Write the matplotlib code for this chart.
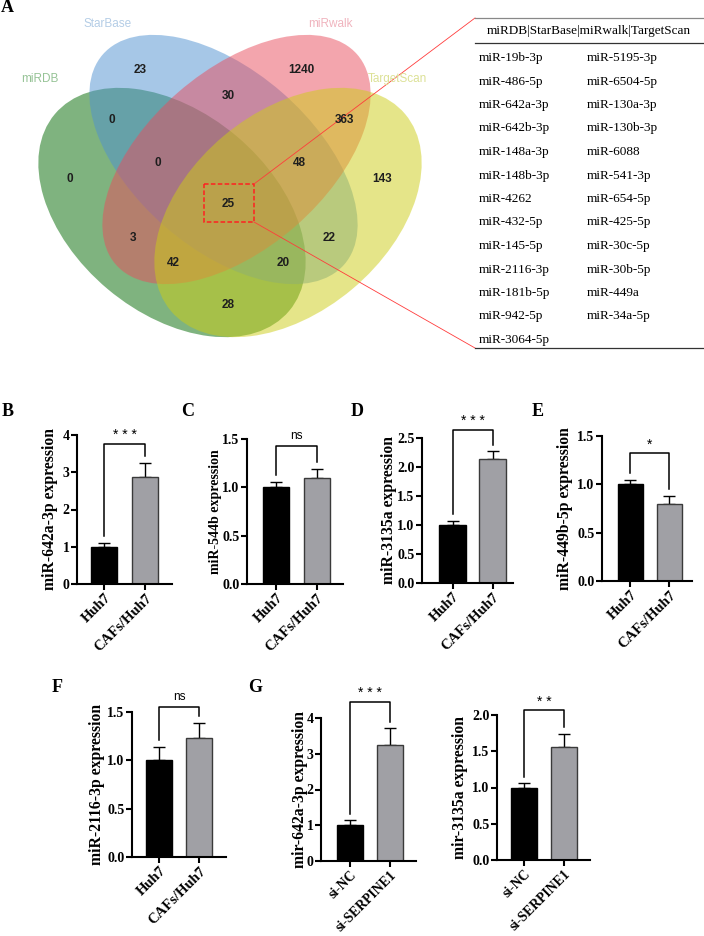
import numpy as np
import matplotlib
matplotlib.use("Agg")
import matplotlib.pyplot as plt
from matplotlib.patches import Ellipse, Rectangle

W, H = 704, 936

# ---- panel A: venn counts
venn_sets = ["miRDB", "StarBase", "miRwalk", "TargetScan"]
venn_regions = ["A", "B", "C", "D", "AB", "CD", "BC", "ABC", "BCD",
                "ABCD", "AC", "BD", "ACD", "ABD", "AD"]
venn_counts = [0, 23, 1240, 143, 0, 363, 30, 0, 48, 25, 3, 22, 42, 20, 28]

# the 25 miRNAs shared by all four databases
shared_col1 = ["miR-19b-3p", "miR-486-5p", "miR-642a-3p", "miR-642b-3p",
               "miR-148a-3p", "miR-148b-3p", "miR-4262", "miR-432-5p",
               "miR-145-5p", "miR-2116-3p", "miR-181b-5p", "miR-942-5p",
               "miR-3064-5p"]
shared_col2 = ["miR-5195-3p", "miR-6504-5p", "miR-130a-3p", "miR-130b-3p",
               "miR-6088", "miR-541-3p", "miR-654-5p", "miR-425-5p",
               "miR-30c-5p", "miR-30b-5p", "miR-449a", "miR-34a-5p"]

# ---- panels B-G: relative expression (mean, upper error)
groups_caf = ["Huh7", "CAFs/Huh7"]
groups_si = ["si-NC", "si-SERPINE1"]
B_mean, B_err = [1.00, 2.87], [0.10, 0.38]
C_mean, C_err = [1.00, 1.10], [0.055, 0.09]
D_mean, D_err = [1.00, 2.14], [0.07, 0.13]
E_mean, E_err = [1.00, 0.80], [0.05, 0.08]
F_mean, F_err = [1.00, 1.23], [0.14, 0.16]
G1_mean, G1_err = [1.00, 3.24], [0.14, 0.48]
G2_mean, G2_err = [1.00, 1.56], [0.06, 0.18]

plt.rcParams["font.family"] = ["Liberation Serif", "DejaVu Serif"]

fig = plt.figure(figsize=(W / 100, H / 100), dpi=100)


def px_ax(x0, x1, ybot, ytop):
    return fig.add_axes([x0 / W, 1 - ybot / H, (x1 - x0) / W, (ybot - ytop) / H])


# overlay in pixel coordinates (venn + table + letters)
ov = fig.add_axes([0, 0, 1, 1])
ov.set_xlim(0, W)
ov.set_ylim(H, 0)
ov.axis("off")

# ellipses: centre, width, height, angle (y axis points down)
ell_geo = [((172, 212.5), 306, 200, 40),
           ((223.5, 159.5), 320, 178, 41),
           ((236.5, 159.5), 320, 178, -41),
           ((288, 212.5), 306, 200, -40)]
ell_cols = ["#006900", "#4f91d1", "#e94d5d", "#cdcd15"]
for (c, w, h, a), col in zip(ell_geo, ell_cols):
    ov.add_patch(Ellipse(c, w, h, angle=a, facecolor=col, alpha=0.5,
                         edgecolor="none"))

lab_pos = {"A": (70, 179), "B": (140, 70), "C": (301, 70), "D": (382, 179),
           "AB": (112, 120), "CD": (344, 120), "BC": (228, 96),
           "ABC": (158, 163), "BCD": (299, 163), "ABCD": (228, 204),
           "AC": (133, 238), "BD": (329, 238), "ACD": (173, 263),
           "ABD": (283, 263), "AD": (228, 305)}
for reg, n in zip(venn_regions, venn_counts):
    x, y = lab_pos[reg]
    ov.text(x, y, str(n), ha="center", va="center", fontsize=8.5,
            family="Liberation Sans", fontweight="bold", color="#1e1e1e")

name_pos = [(40, 79), (108, 24), (330, 24), (397, 79)]
name_cols = ["#96c396", "#b4cde6", "#f0b4be", "#dce196"]
for nm, (x, y), col in zip(venn_sets, name_pos, name_cols):
    ov.text(x, y, nm, ha="center", va="center", fontsize=8.5,
            family="Liberation Sans", color=col)

# zoom box and connector lines
ov.add_patch(Rectangle((204, 184), 50, 38, fill=False, edgecolor="#ff2020",
                       linestyle=(0, (3, 1.5)), linewidth=1.1))
ov.plot([254, 475], [184, 18], color="#ff3b3b", lw=0.6)
ov.plot([254, 475], [222, 348], color="#ff3b3b", lw=0.6)

# table
ov.plot([475, 703], [18, 18], color="#888888", lw=0.9)
ov.plot([475, 703], [43, 43], color="#333333", lw=0.9)
ov.plot([475, 703], [348, 348], color="#333333", lw=0.9)
ov.text(589, 31, "miRDB|StarBase|miRwalk|TargetScan", ha="center",
        va="center", fontsize=9.5)
for i, m in enumerate(shared_col1):
    ov.text(479, 58 + 23.5 * i, m, ha="left", va="center", fontsize=9.5)
for i, m in enumerate(shared_col2):
    ov.text(587, 58 + 23.5 * i, m, ha="left", va="center", fontsize=9.5)

# panel letters
for lt, (x, y) in zip("ABCDEFG", [(7, 8), (8, 411), (188, 411), (357, 412),
                                 (538, 412), (57, 687), (255, 687)]):
    ov.text(x, y, lt, ha="center", va="center", fontsize=13,
            fontweight="bold")


def bar_panel(geo, means, errs, names, ylab, ymax, step, fmt, sig, br,
              ylab_size=11.3, xlab_size=10.5):
    x0, x1, xb, xg, bw, ybot, ytop, lab_x = geo
    ax = px_ax(x0, x1, ybot, ytop)
    unit = xg - xb
    ax.set_xlim(-(xb - x0) / unit, 1 + (x1 - xg) / unit)
    ax.set_ylim(0, ymax)
    xs = [0, 1]
    ax.bar(xs, means, width=bw / unit, color=["black", "#a0a0a5"],
           edgecolor=["black", "#3a3a3a"], linewidth=1.0, zorder=2)
    ax.errorbar(xs, means, yerr=[[0, 0], errs], fmt="none", ecolor="black",
                elinewidth=1.0, capsize=4, capthick=1.0, zorder=1)
    tops = [m + e for m, e in zip(means, errs)]
    yb = max(tops) + br * ymax
    gap = 0.045 * ymax
    ax.plot([0, 0, 1, 1], [tops[0] + gap, yb, yb, tops[1] + gap],
            color="black", lw=1.1, clip_on=False)
    if sig == "ns":
        ax.annotate(sig, (0.5, yb), xytext=(0, 3), textcoords="offset points",
                    ha="center", va="bottom", fontsize=8.5,
                    family="Liberation Sans", annotation_clip=False)
    else:
        ax.annotate(" ".join(sig), (0.5, yb), xytext=(0, 1),
                    textcoords="offset points", ha="center", va="bottom",
                    fontsize=10, family="Liberation Sans",
                    annotation_clip=False)
    for s in ["top", "right"]:
        ax.spines[s].set_visible(False)
    for s in ["left", "bottom"]:
        ax.spines[s].set_linewidth(1.5)
    ticks = np.arange(0, ymax + step / 2, step)
    ax.set_yticks(ticks)
    ax.set_yticklabels([fmt.format(t) for t in ticks], fontweight="bold",
                       fontsize=10)
    ax.set_xticks(xs)
    ax.set_xticklabels(names, rotation=45, ha="right",
                       rotation_mode="anchor", fontweight="bold",
                       fontsize=xlab_size)
    ax.tick_params(direction="out", length=4.5, width=1.5, pad=1)
    ax.set_ylabel(ylab, fontweight="bold", fontsize=ylab_size, va="center")
    ax.yaxis.set_label_coords((lab_x - x0) / (x1 - x0), 0.5)
    ax.patch.set_visible(False)
    return ax


# geometry: axis left, axis right, bar1 centre, bar2 centre, bar width,
# y=0 pixel, y=max pixel, ylabel centre x
bar_panel((77, 172, 104, 145, 26, 584, 435, 50), B_mean, B_err, groups_caf,
          "miR-642a-3p expression", 4, 1, "{:.0f}", "***", 0.13)
bar_panel((247, 343, 276, 316.5, 26, 584, 439, 215), C_mean, C_err,
          groups_caf, "miR-544b expression", 1.5, 0.5, "{:.1f}", "ns", 0.16,
          ylab_size=10)
bar_panel((422, 513, 452.5, 492.5, 26.5, 583, 438, 389), D_mean, D_err,
          groups_caf, "miR-3135a expression", 2.5, 0.5, "{:.1f}", "***", 0.15)
bar_panel((602, 692, 630, 669, 25, 581, 436, 565), E_mean, E_err, groups_caf,
          "miR-449b-5p expression", 1.5, 0.5, "{:.1f}", "*", 0.18)
bar_panel((132, 226, 159, 199, 26, 857, 712, 97), F_mean, F_err, groups_caf,
          "miR-2116-3p expression", 1.5, 0.5, "{:.1f}", "ns", 0.107)
bar_panel((321, 416, 350, 390, 26, 861, 718, 300), G1_mean, G1_err,
          groups_si, "mir-642a-3p expression", 4, 1, "{:.0f}", "***", 0.185,
          xlab_size=9.8)
bar_panel((497, 590, 524, 564, 26, 860, 715, 460), G2_mean, G2_err,
          groups_si, "mir-3135a expression", 2, 0.5, "{:.1f}", "**", 0.165,
          xlab_size=9.8)

fig.savefig("out.png", dpi=100)
